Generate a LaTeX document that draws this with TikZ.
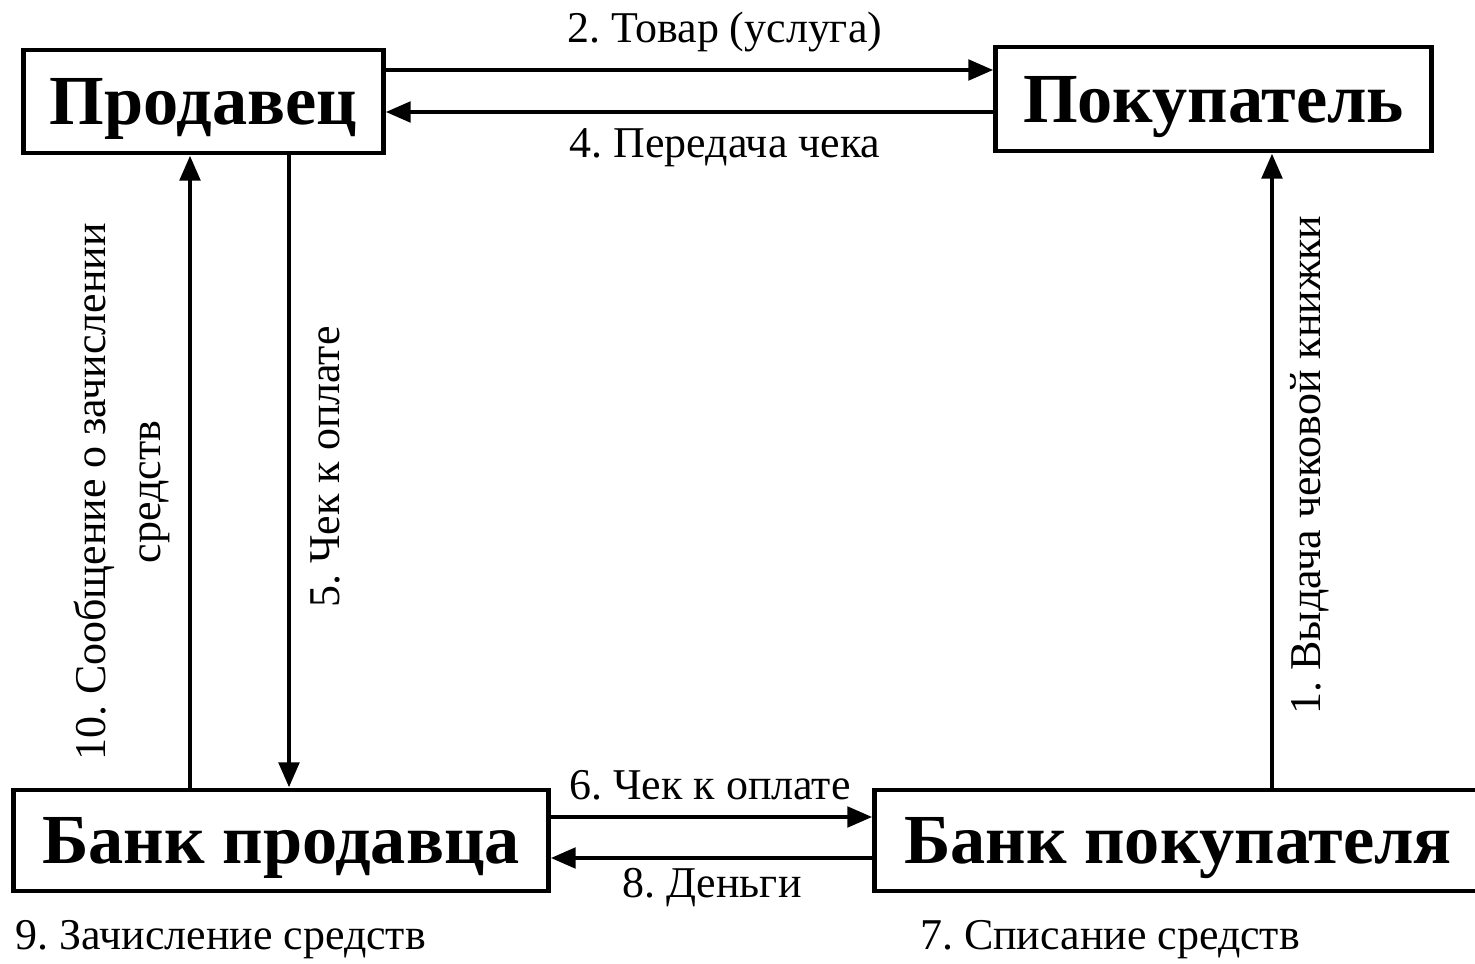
\documentclass[tikz,border=0pt]{standalone}
\usepackage{fontspec}
\setmainfont{Liberation Serif}
\usetikzlibrary{arrows.meta}
\frenchspacing

\tikzset{
  party/.style={draw, line width=1.4pt, inner sep=0pt, text depth=0pt,
    font=\fontsize{20}{24}\selectfont\bfseries},
  flow/.style={line width=1.4pt, -{Triangle[length=0.25cm,width=0.2cm]}},
  lbl/.style={inner sep=0pt, font=\fontsize{12.5}{15.5}\selectfont},
}

\begin{document}
\begin{tikzpicture}[x=0.01cm, y=-0.01cm]
    \useasboundingbox (0,0) rectangle (1475,964);
    \node[party, minimum width=3.59cm, minimum height=1.03cm] (seller) at (203.5,101.5) {Продавец};
    \node[party, minimum width=4.35cm, minimum height=1.04cm] (buyer) at (1213.5,99) {Покупатель};
    \node[party, minimum width=5.34cm, minimum height=1.01cm] (sbank) at (281,840.5) {Банк продавца};
    \node[party, minimum width=6.06cm, minimum height=1.01cm] (bbank) at (1178,840.5) {Банк покупателя};

    \draw[flow] (seller.east |- 0,70) -- (buyer.west |- 0,70);
    \draw[flow] (buyer.west |- 0,112) -- (seller.east |- 0,112);
    \draw[flow] (sbank.north -| 190,0) -- (seller.south -| 190,0);
    \draw[flow] (seller.south -| 289,0) -- (sbank.north -| 289,0);
    \draw[flow] (bbank.north -| 1272,0) -- (buyer.south -| 1272,0);
    \draw[flow] (sbank.east |- 0,817) -- (bbank.west |- 0,817);
    \draw[flow] (bbank.west |- 0,858) -- (sbank.east |- 0,858);

    \node[lbl] (l2) at (725,32) {2. Товар (услуга)};
    \node[lbl] (l4) at (725,148) {4. Передача чека};
    \node[lbl] (l6) at (710,785) {6. Чек к оплате};
    \node[lbl] (l8) at (712,888) {8. Деньги};
    \node[lbl, anchor=west] (l9) at (15,940) {9. Зачисление средств};
    \node[lbl] (l7) at (1110,940) {7. Списание средств};
    \node[lbl, rotate=90] (l5) at (325,467) {5. Чек к оплате};
    \node[lbl, rotate=90] (l1) at (1310,465) {1. Выдача чековой книжки};
    \node[lbl, rotate=90, align=center] (l10) at (122,492) {10. Сообщение о зачислении\\средств};
\end{tikzpicture}
\end{document}
